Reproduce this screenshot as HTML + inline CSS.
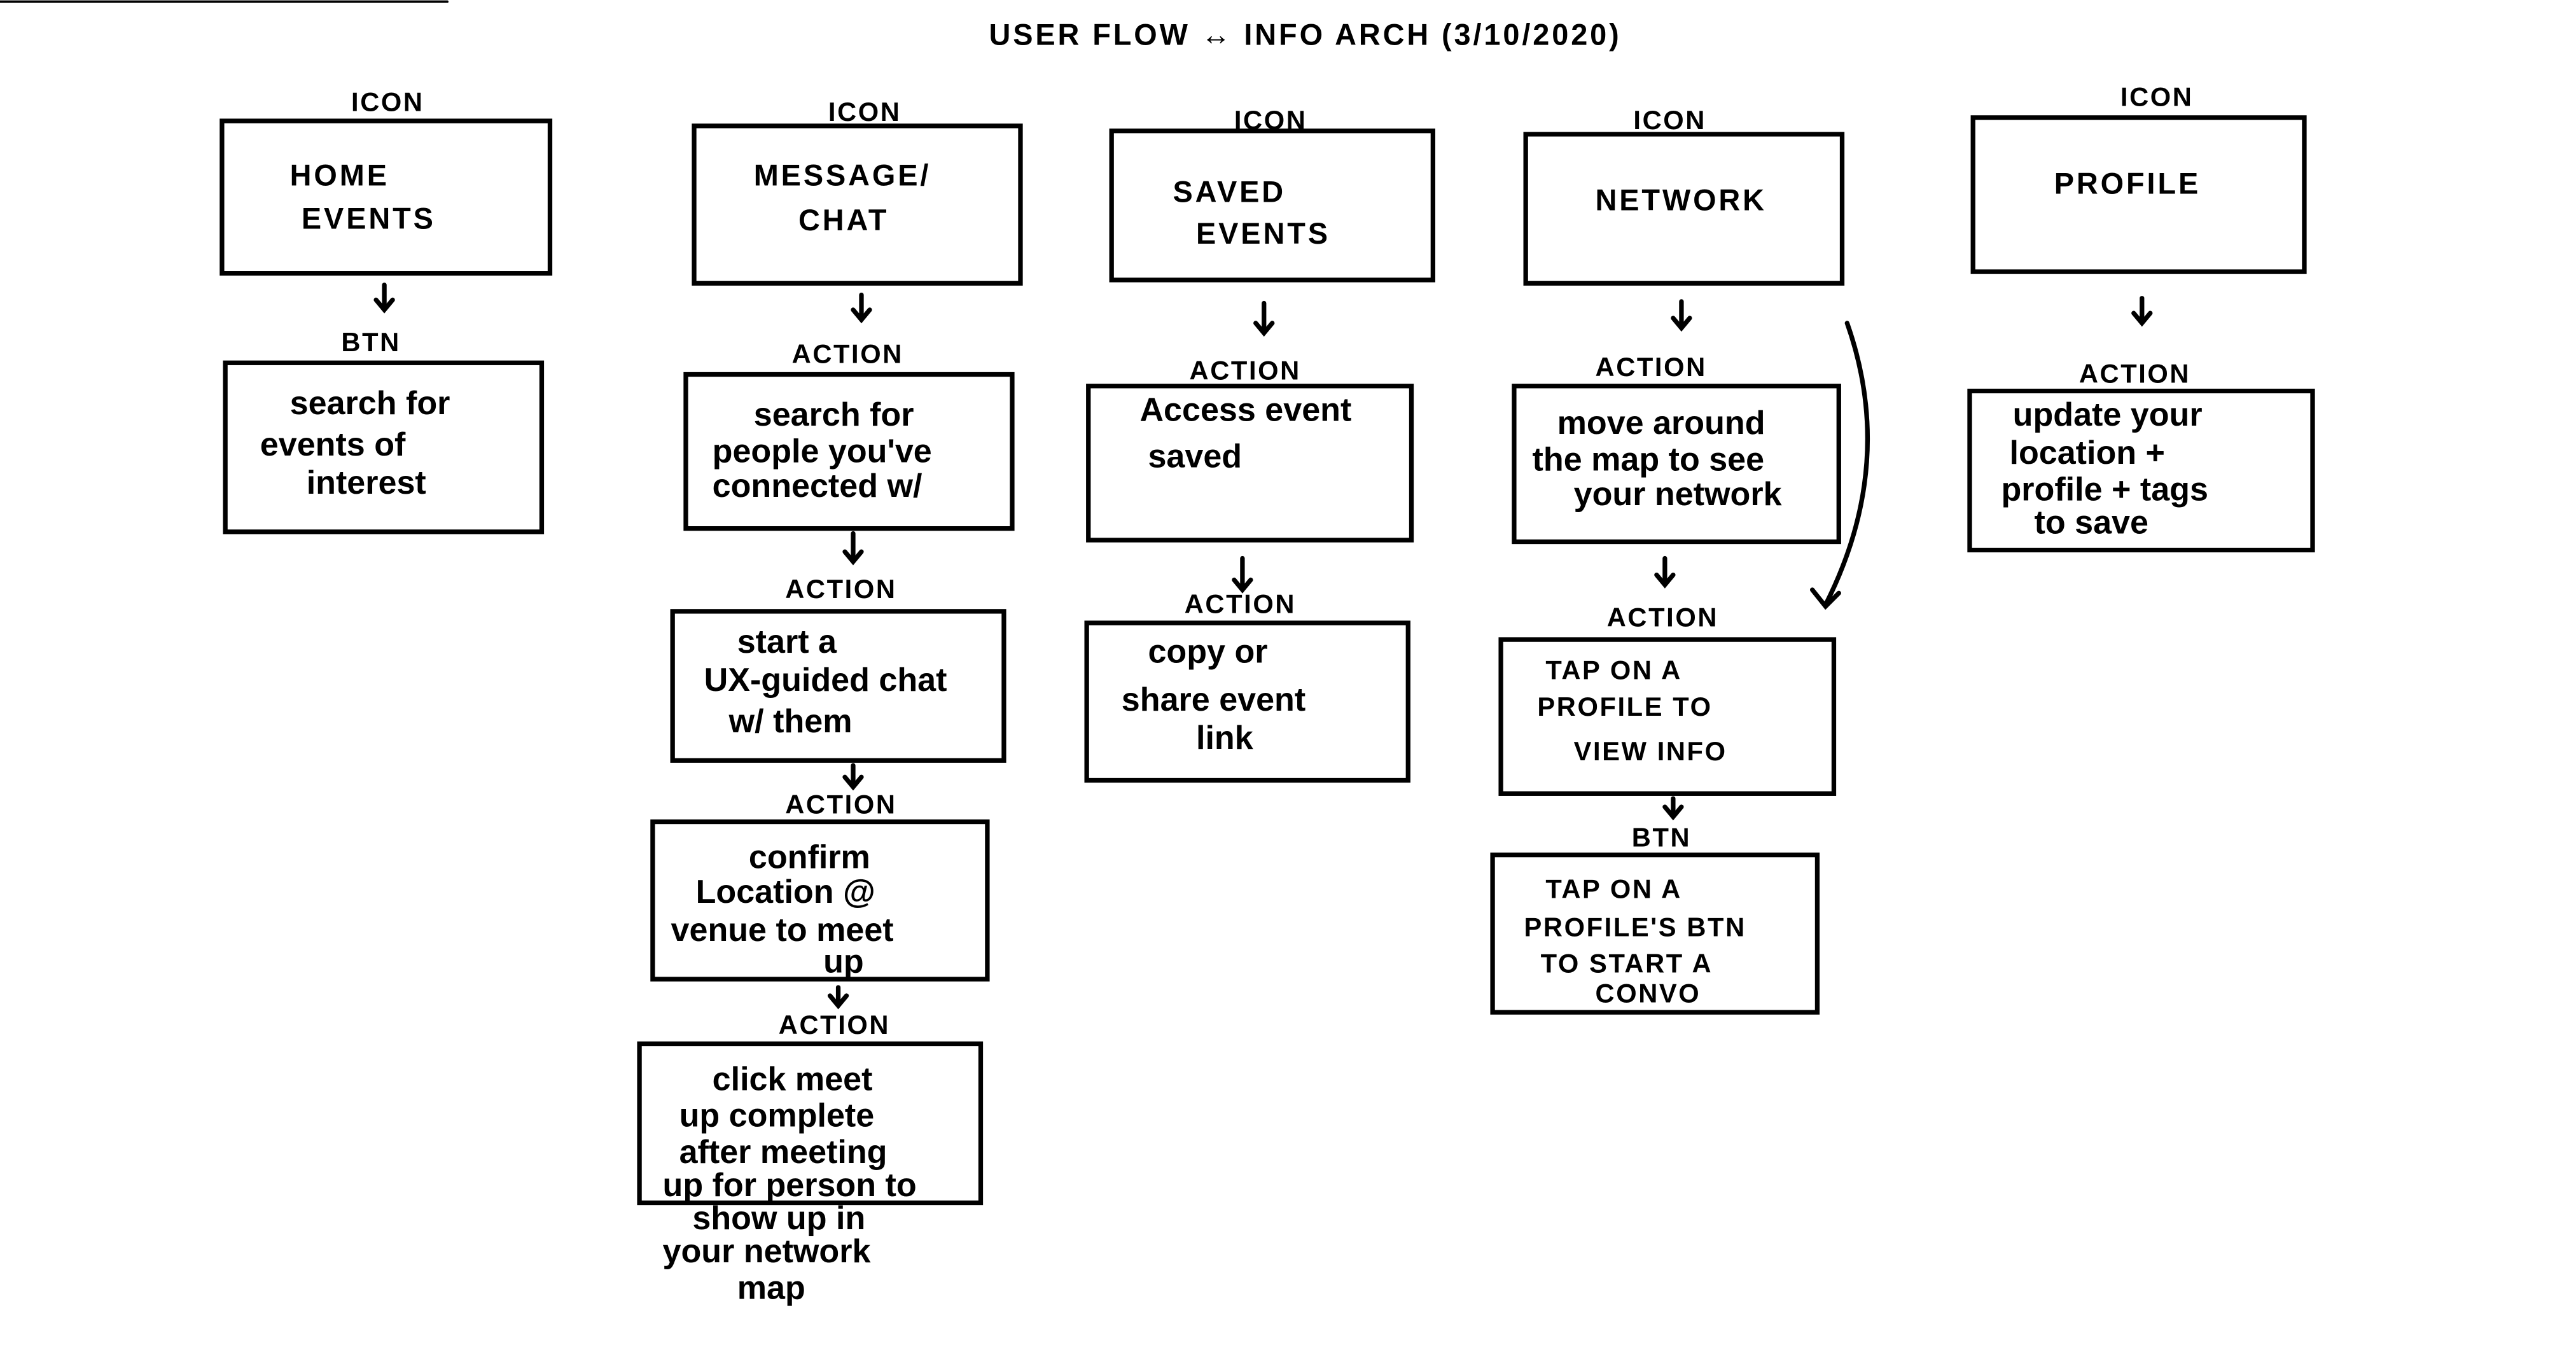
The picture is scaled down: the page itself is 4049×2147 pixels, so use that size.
<!DOCTYPE html>
<html><head><meta charset="utf-8"><style>
html,body{margin:0;padding:0;background:#fff;}
svg{display:block;}
text{font-family:"Liberation Sans",sans-serif;font-size:20px;fill:#000;font-weight:600;}
.l{font-size:16px;letter-spacing:1px;}
.h{font-size:18px;letter-spacing:1.5px;}
</style></head><body>
<svg width="4049" height="2147" viewBox="0 0 1555 824.5" preserveAspectRatio="none" xmlns="http://www.w3.org/2000/svg">
<g stroke="#000" stroke-width="2.8" fill="none" stroke-linecap="round">
<line x1="0" y1="1" x2="270" y2="1" stroke-width="1.5"/>
<rect x="134" y="73" width="198" height="92"/>
<rect x="136" y="219" width="191" height="102"/>
<line x1="232" y1="172" x2="232" y2="186"/><path d="M227 181 L232 187 L237 181"/>
<rect x="419" y="76" width="197" height="95"/>
<rect x="414" y="226" width="197" height="93"/>
<rect x="406" y="369" width="200" height="90"/>
<rect x="394" y="496" width="202" height="95"/>
<rect x="386" y="630" width="206" height="96"/>
<line x1="520" y1="178" x2="520" y2="192"/><path d="M515 187 L520 193 L525 187"/>
<line x1="515" y1="322" x2="515" y2="338"/><path d="M510 333 L515 339 L520 333"/>
<line x1="515" y1="462" x2="515" y2="474"/><path d="M510 469 L515 475 L520 469"/>
<line x1="506" y1="596" x2="506" y2="606"/><path d="M501 601 L506 607 L511 601"/>
<rect x="671" y="79" width="194" height="90"/>
<rect x="657" y="233" width="195" height="93"/>
<rect x="656" y="376" width="194" height="95"/>
<line x1="763" y1="183" x2="763" y2="200"/><path d="M758 195 L763 201 L768 195"/>
<line x1="750" y1="337" x2="750" y2="355"/><path d="M745 350 L750 356 L755 350"/>
<rect x="921" y="81" width="191" height="90"/>
<rect x="914" y="233" width="196" height="94"/>
<rect x="906" y="386" width="201" height="93"/>
<rect x="901" y="516" width="196" height="95"/>
<line x1="1015" y1="182" x2="1015" y2="197"/><path d="M1010 192 L1015 198 L1020 192"/>
<line x1="1005" y1="337" x2="1005" y2="352"/><path d="M1000 347 L1005 353 L1010 347"/>
<line x1="1010" y1="482" x2="1010" y2="492"/><path d="M1005 487 L1010 493 L1015 487"/>
<path d="M1115 195 Q1145 280 1102 365"/><path d="M1094 356 L1102 366 L1110 358"/>
<rect x="1191" y="71" width="200" height="93"/>
<rect x="1189" y="236" width="207" height="96"/>
<line x1="1293" y1="180" x2="1293" y2="194"/><path d="M1288 189 L1293 195 L1298 189"/>
</g>
<text x="597" y="27" class="h">USER FLOW ↔ INFO ARCH (3/10/2020)</text>
<text x="212" y="67" class="l">ICON</text>
<text x="500" y="73" class="l">ICON</text>
<text x="745" y="78" class="l">ICON</text>
<text x="986" y="78" class="l">ICON</text>
<text x="1280" y="64" class="l">ICON</text>
<text x="175" y="112" class="h">HOME</text>
<text x="182" y="138" class="h">EVENTS</text>
<text x="206" y="212" class="l">BTN</text>
<text x="175" y="250">search for</text>
<text x="157" y="275">events of</text>
<text x="185" y="298">interest</text>
<text x="455" y="112" class="h">MESSAGE/</text>
<text x="482" y="139" class="h">CHAT</text>
<text x="478" y="219" class="l">ACTION</text>
<text x="455" y="257">search for</text>
<text x="430" y="279">people you've</text>
<text x="430" y="300">connected w/</text>
<text x="474" y="361" class="l">ACTION</text>
<text x="445" y="394">start a</text>
<text x="425" y="417">UX-guided chat</text>
<text x="440" y="442">w/ them</text>
<text x="474" y="491" class="l">ACTION</text>
<text x="452" y="524">confirm</text>
<text x="420" y="545">Location @</text>
<text x="405" y="568">venue to meet</text>
<text x="497" y="587">up</text>
<text x="470" y="624" class="l">ACTION</text>
<text x="430" y="658">click meet</text>
<text x="410" y="680">up complete</text>
<text x="410" y="702">after meeting</text>
<text x="400" y="722">up for person to</text>
<text x="418" y="742">show up in</text>
<text x="400" y="762">your network</text>
<text x="445" y="784">map</text>
<text x="708" y="122" class="h">SAVED</text>
<text x="722" y="147" class="h">EVENTS</text>
<text x="718" y="229" class="l">ACTION</text>
<text x="688" y="254">Access event</text>
<text x="693" y="282">saved</text>
<text x="715" y="370" class="l">ACTION</text>
<text x="693" y="400">copy or</text>
<text x="677" y="429">share event</text>
<text x="722" y="452">link</text>
<text x="963" y="127" class="h">NETWORK</text>
<text x="963" y="227" class="l">ACTION</text>
<text x="940" y="262">move around</text>
<text x="925" y="284">the map to see</text>
<text x="950" y="305">your network</text>
<text x="970" y="378" class="l">ACTION</text>
<text x="933" y="410" class="l">TAP ON A</text>
<text x="928" y="432" class="l">PROFILE TO</text>
<text x="950" y="459" class="l">VIEW INFO</text>
<text x="985" y="511" class="l">BTN</text>
<text x="933" y="542" class="l">TAP ON A</text>
<text x="920" y="565" class="l">PROFILE'S BTN</text>
<text x="930" y="587" class="l">TO START A</text>
<text x="963" y="605" class="l">CONVO</text>
<text x="1240" y="117" class="h">PROFILE</text>
<text x="1255" y="231" class="l">ACTION</text>
<text x="1215" y="257">update your</text>
<text x="1213" y="280">location +</text>
<text x="1208" y="302">profile + tags</text>
<text x="1228" y="322">to save</text>
</svg>
</body></html>
